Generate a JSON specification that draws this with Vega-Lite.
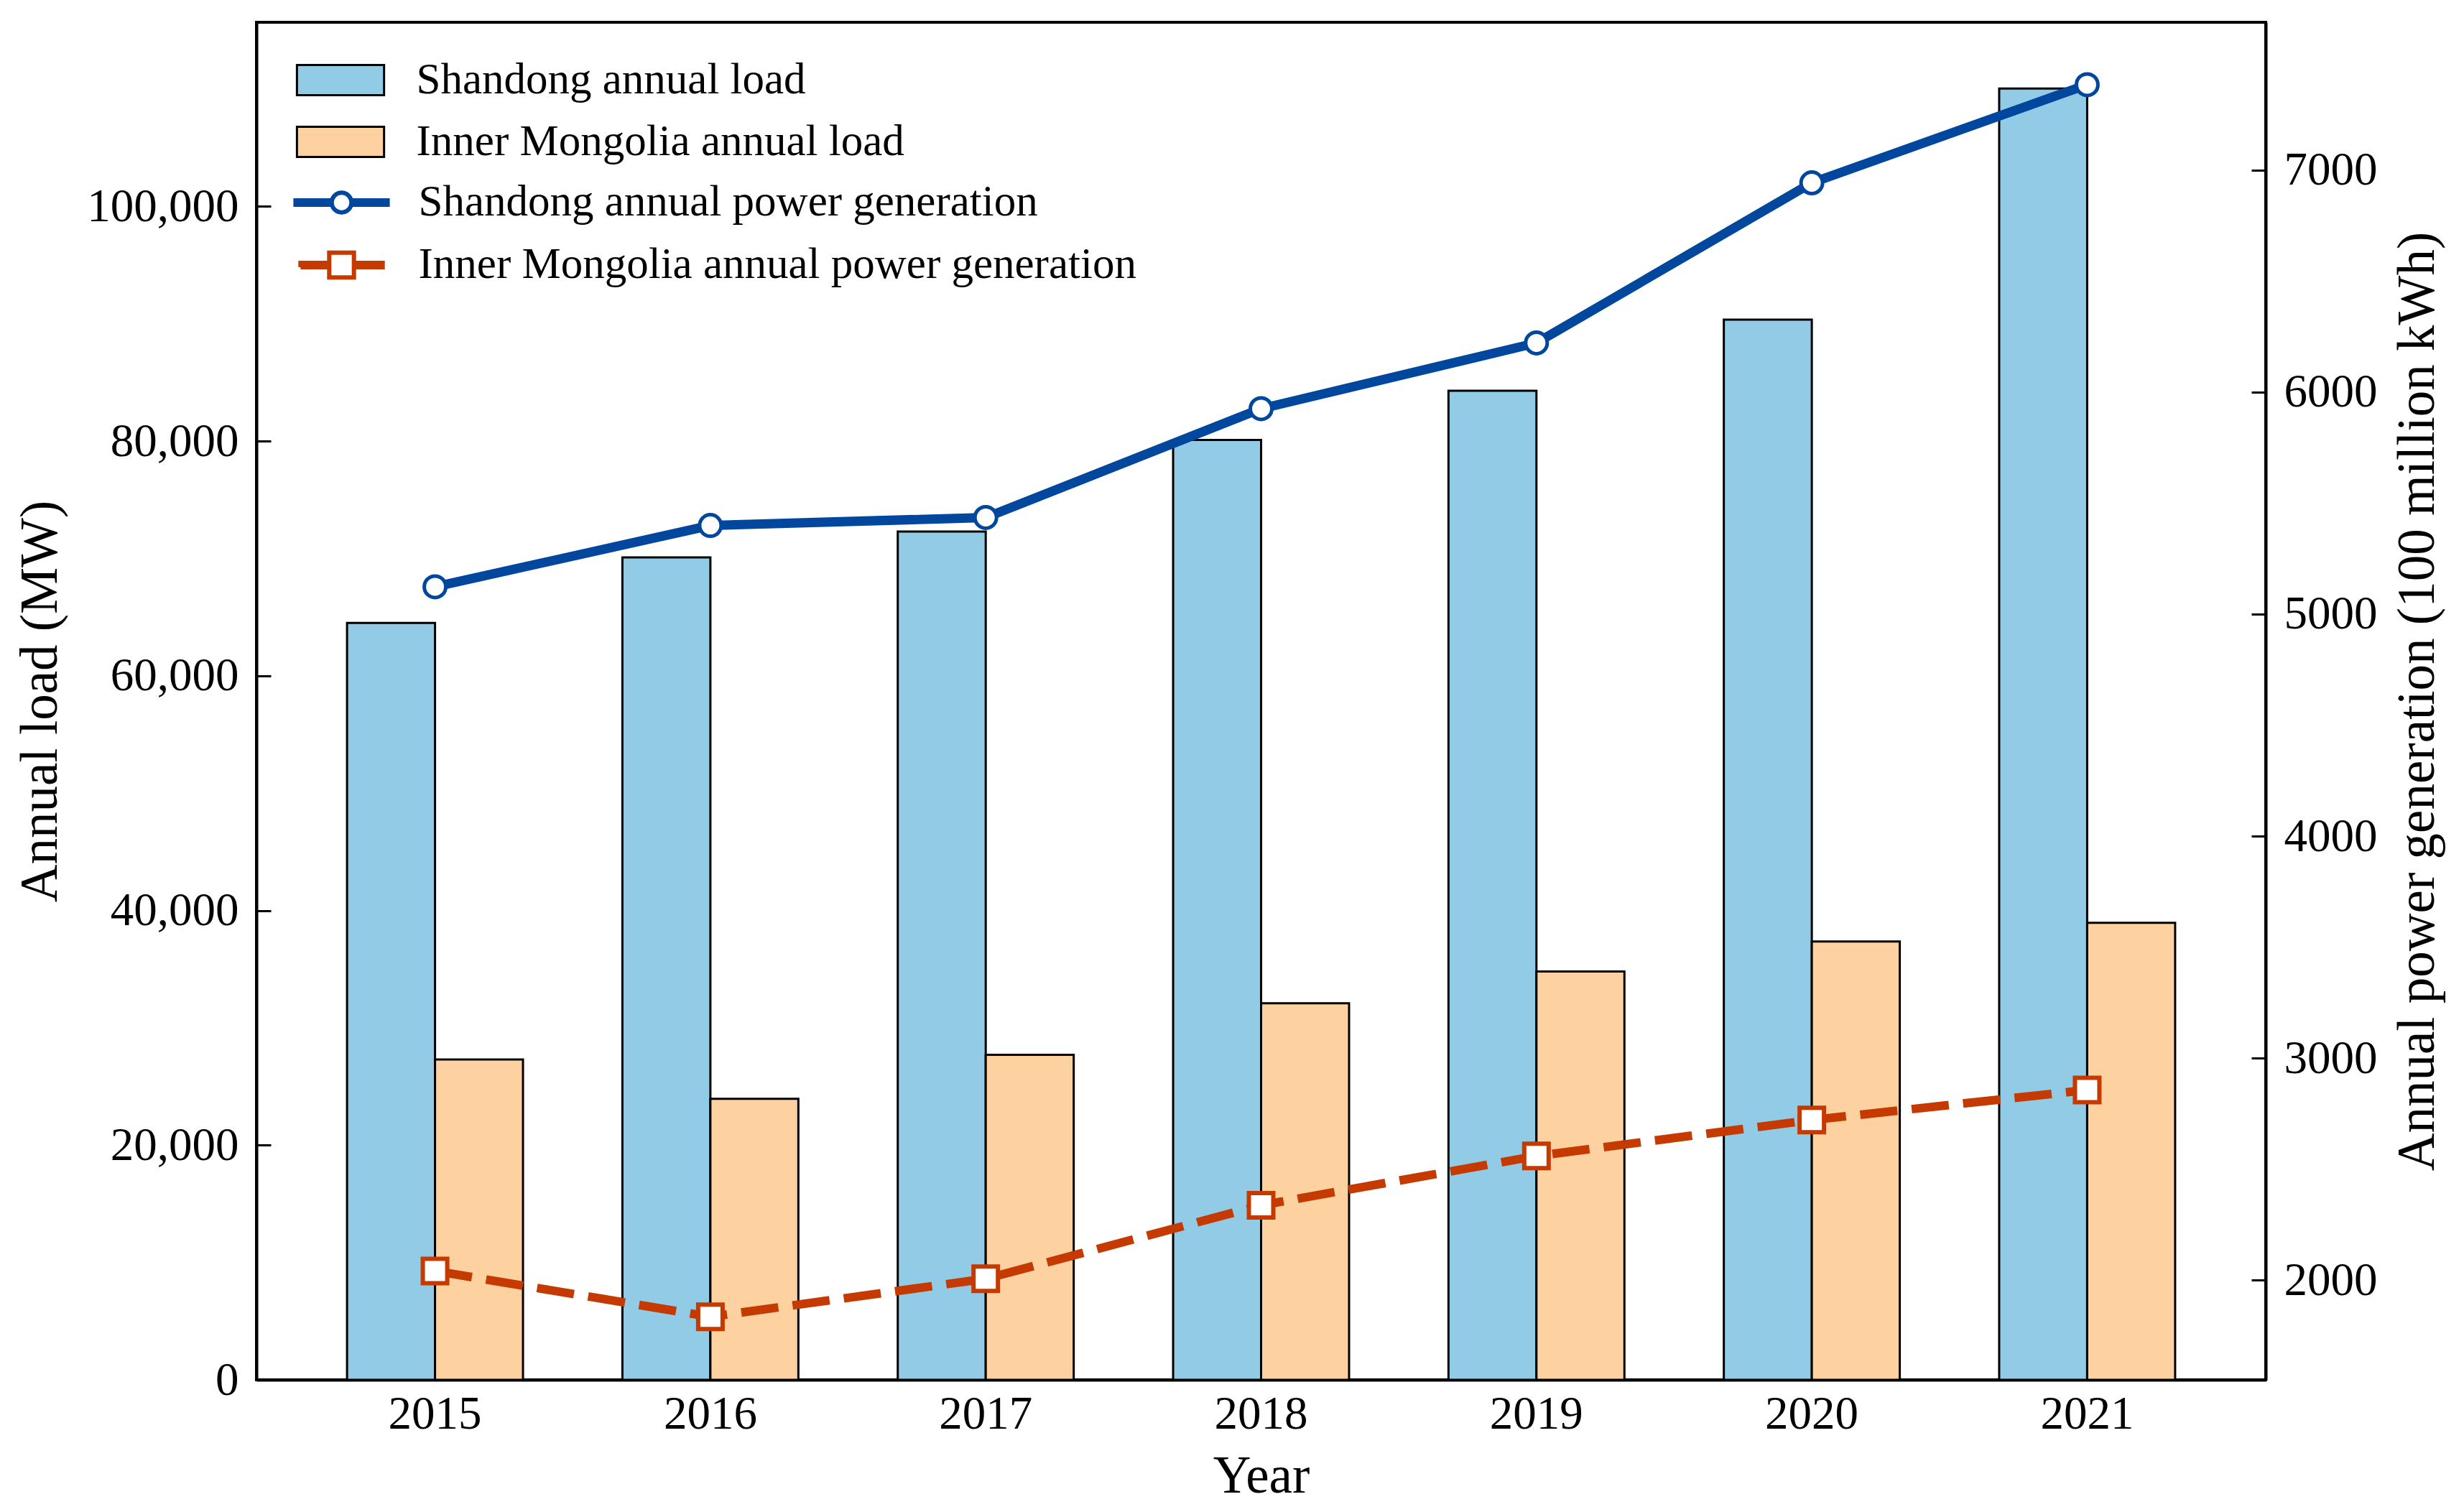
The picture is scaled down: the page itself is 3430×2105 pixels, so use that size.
{
  "$schema": "https://vega.github.io/schema/vega-lite/v6.json",
  "width": 2797,
  "height": 1890,
  "autosize": {"type": "none"},
  "padding": {"left": 357, "top": 31, "right": 276, "bottom": 184},
  "background": "white",
  "datasets": {
    "load": [
      {"year": "2015", "series": "Shandong annual load", "value": 64500},
      {"year": "2016", "series": "Shandong annual load", "value": 70100},
      {"year": "2017", "series": "Shandong annual load", "value": 72300},
      {"year": "2018", "series": "Shandong annual load", "value": 80100},
      {"year": "2019", "series": "Shandong annual load", "value": 84300},
      {"year": "2020", "series": "Shandong annual load", "value": 90350},
      {"year": "2021", "series": "Shandong annual load", "value": 110050},
      {"year": "2015", "series": "Inner Mongolia annual load", "value": 27300},
      {"year": "2016", "series": "Inner Mongolia annual load", "value": 23950},
      {"year": "2017", "series": "Inner Mongolia annual load", "value": 27700},
      {"year": "2018", "series": "Inner Mongolia annual load", "value": 32100},
      {"year": "2019", "series": "Inner Mongolia annual load", "value": 34800},
      {"year": "2020", "series": "Inner Mongolia annual load", "value": 37350},
      {"year": "2021", "series": "Inner Mongolia annual load", "value": 38950}
    ],
    "generation": [
      {"year": "2015", "series": "Shandong annual power generation", "value": 5123},
      {"year": "2016", "series": "Shandong annual power generation", "value": 5399},
      {"year": "2017", "series": "Shandong annual power generation", "value": 5435},
      {"year": "2018", "series": "Shandong annual power generation", "value": 5925},
      {"year": "2019", "series": "Shandong annual power generation", "value": 6221},
      {"year": "2020", "series": "Shandong annual power generation", "value": 6942},
      {"year": "2021", "series": "Shandong annual power generation", "value": 7384},
      {"year": "2015", "series": "Inner Mongolia annual power generation", "value": 2042},
      {"year": "2016", "series": "Inner Mongolia annual power generation", "value": 1836},
      {"year": "2017", "series": "Inner Mongolia annual power generation", "value": 2007},
      {"year": "2018", "series": "Inner Mongolia annual power generation", "value": 2338},
      {"year": "2019", "series": "Inner Mongolia annual power generation", "value": 2560},
      {"year": "2020", "series": "Inner Mongolia annual power generation", "value": 2722},
      {"year": "2021", "series": "Inner Mongolia annual power generation", "value": 2857}
    ]
  },
  "layer": [
    {
      "data": {"name": "load"},
      "mark": {"type": "bar", "stroke": "black", "strokeWidth": 3, "opacity": 1},
      "encoding": {
        "x": {
          "field": "year", "type": "ordinal",
          "scale": {"paddingInner": 0.361, "paddingOuter": 0.329},
          "axis": {"title": "Year", "labelAngle": 0, "ticks": false, "labelBaseline": "alphabetic", "labelPadding": 67, "titleBaseline": "alphabetic", "titleY": 156}
        },
        "xOffset": {
          "field": "series", "type": "nominal",
          "sort": ["Shandong annual load", "Inner Mongolia annual load"],
          "scale": {"paddingInner": 0, "paddingOuter": 0}
        },
        "y": {
          "field": "value", "type": "quantitative",
          "scale": {"domain": [0, 115700], "nice": false},
          "axis": {"orient": "left", "title": "Annual load (MW)", "values": [0, 20000, 40000, 60000, 80000, 100000], "format": ",d", "labelPadding": 45, "titleAngle": -90, "titleBaseline": "alphabetic", "titleX": -279, "titleY": 945, "titleAlign": "center"}
        },
        "fill": {
          "field": "series", "type": "nominal",
          "scale": {
            "domain": ["Shandong annual load", "Inner Mongolia annual load"],
            "range": ["#92CBE6", "#FED1A1"]
          },
          "legend": {
            "orient": "none", "legendX": 72.5, "legendY": 36, "direction": "vertical",
            "title": null, "padding": 0, "rowPadding": 11,
            "symbolSize": 7396, "symbolType": "M-1.41,-0.49H1.41V0.49H-1.41Z",
            "symbolStrokeColor": "black", "symbolStrokeWidth": 3, "symbolOpacity": 1,
            "labelOffset": 61
          }
        }
      }
    },
    {
      "data": {"name": "generation"},
      "encoding": {
        "x": {"field": "year", "type": "ordinal"},
        "y": {
          "field": "value", "type": "quantitative",
          "scale": {"domain": [1552, 7665], "nice": false, "zero": false},
          "axis": {"orient": "right", "title": "Annual power generation (100 million kWh)", "values": [2000, 3000, 4000, 5000, 6000, 7000], "format": "d", "labelPadding": 45, "titleAngle": -90, "titleBaseline": "alphabetic", "titleX": 233, "titleY": 945, "titleAlign": "center"}
        }
      },
      "layer": [
        {
          "transform": [{"filter": "datum.series === 'Shandong annual power generation'"}],
          "mark": {"type": "line", "strokeWidth": 13},
          "encoding": {
            "stroke": {
              "field": "series", "type": "nominal",
              "scale": {"domain": ["Shandong annual power generation"], "range": ["#00479D"]},
              "legend": {
                "orient": "none", "legendX": 72.5, "legendY": 205, "title": null, "padding": 0,
                "symbolSize": 7396,
                "symbolType": "M-1.49,-0.07H-0.32V0.07H-1.49Z M0.32,-0.07H1.49V0.07H0.32Z M0.32,0A0.32,0.32 0 1,1 -0.32,0A0.32,0.32 0 1,1 0.32,0Z",
                "symbolStrokeWidth": 6, "symbolFillColor": "white", "symbolOpacity": 1,
                "labelOffset": 61
              }
            }
          }
        },
        {
          "transform": [{"filter": "datum.series === 'Inner Mongolia annual power generation'"}],
          "mark": {"type": "line", "strokeWidth": 12, "strokeDash": [52, 20], "strokeCap": "butt"},
          "encoding": {
            "stroke": {
              "field": "series", "type": "nominal",
              "scale": {"domain": ["Inner Mongolia annual power generation"], "range": ["#C43A00"]},
              "legend": {
                "orient": "none", "legendX": 72.5, "legendY": 292, "title": null, "padding": 0,
                "symbolSize": 7396,
                "symbolType": "M-1.33,-0.07H-0.4V0.07H-1.33Z M0.4,-0.07H1.33V0.07H0.4Z M-0.4,-0.4H0.4V0.4H-0.4Z",
                "symbolStrokeWidth": 6, "symbolFillColor": "white", "symbolOpacity": 1, "symbolDash": [1, 0],
                "labelOffset": 61
              }
            }
          }
        },
        {
          "transform": [{"filter": "datum.series === 'Shandong annual power generation'"}],
          "mark": {"type": "point", "shape": "circle", "filled": true, "fill": "white", "stroke": "#00479D", "strokeWidth": 5, "size": 900, "opacity": 1}
        },
        {
          "transform": [{"filter": "datum.series === 'Inner Mongolia annual power generation'"}],
          "mark": {"type": "point", "shape": "square", "filled": true, "fill": "white", "stroke": "#C43A00", "strokeWidth": 6, "size": 1156, "opacity": 1}
        }
      ],
      "resolve": {"scale": {"stroke": "independent"}, "legend": {"stroke": "independent"}}
    }
  ],
  "resolve": {"scale": {"y": "independent"}},
  "config": {
    "font": "Liberation Serif",
    "view": {"stroke": "black", "strokeWidth": 4},
    "legend": {"labelFont": "Liberation Serif", "labelFontSize": 61, "labelColor": "black", "labelLimit": 3000},
    "axis": {
      "grid": false,
      "domainColor": "black", "domainWidth": 4,
      "tickColor": "black", "tickWidth": 3, "tickSize": -20,
      "labelFont": "Liberation Serif", "labelFontSize": 65, "labelColor": "black", "labelLimit": 1000,
      "titleFont": "Liberation Serif", "titleFontSize": 73, "titleFontWeight": "normal", "titleColor": "black"
    }
  }
}
